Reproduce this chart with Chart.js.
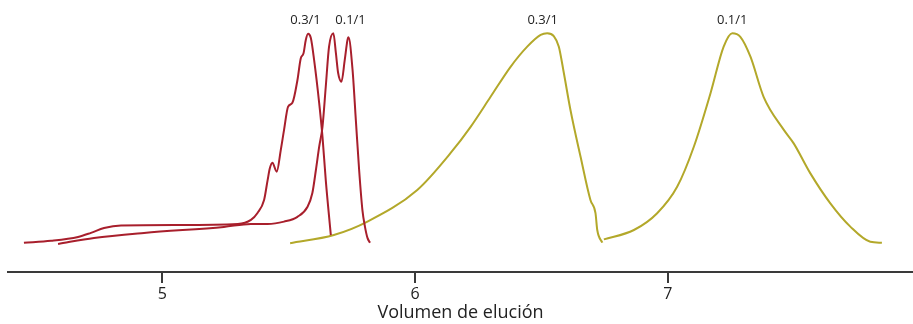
<!DOCTYPE html>
<html>
<head>
<meta charset="utf-8">
<script src="https://cdn.jsdelivr.net/npm/chart.js@4"></script>
<style>
  html, body { margin: 0; padding: 0; background: #fff; }
  #wrap { width: 913px; height: 324px; }
</style>
</head>
<body>
<div id="wrap"><canvas id="elutionChart" width="913" height="324"></canvas></div>
<script>
const red03X = [4.453, 4.560, 4.667, 4.718, 4.770, 4.837, 5.062, 5.299, 5.351, 5.377, 5.403, 5.417, 5.426, 5.436, 5.453, 5.469, 5.482, 5.498, 5.515, 5.535, 5.548, 5.559, 5.568, 5.577, 5.588, 5.601, 5.621, 5.634, 5.647, 5.667];
const red03Y = [12.2, 13.0, 14.6, 16.3, 18.3, 19.4, 19.6, 20.0, 21.7, 24.6, 30.0, 38.3, 43.3, 45.5, 41.8, 50.8, 59.2, 68.9, 70.5, 80.0, 89.0, 91.1, 96.7, 99.3, 97.5, 88.3, 70.4, 56.4, 38.3, 15.4];

const red01X = [4.588, 4.730, 4.928, 5.244, 5.351, 5.417, 5.482, 5.535, 5.575, 5.594, 5.608, 5.621, 5.634, 5.647, 5.660, 5.677, 5.687, 5.696, 5.709, 5.722, 5.733, 5.737, 5.753, 5.766, 5.779, 5.792, 5.802, 5.812, 5.822];
const red01Y = [11.7, 14.2, 16.3, 18.8, 20.0, 20.0, 21.0, 23.0, 27.2, 32.9, 42.5, 52.2, 60.5, 77.2, 93.9, 99.5, 91.3, 82.9, 79.3, 88.3, 96.7, 97.8, 84.2, 63.3, 42.5, 25.8, 18.9, 14.2, 12.2];

const olive03X = [5.506, 5.679, 5.812, 6.009, 6.141, 6.220, 6.299, 6.378, 6.444, 6.497, 6.523, 6.549, 6.569, 6.589, 6.615, 6.655, 6.694, 6.714, 6.721, 6.741];
const olive03Y = [12.0, 15.4, 21.0, 34.2, 49.6, 60.5, 73.0, 85.5, 93.9, 98.8, 99.5, 98.3, 93.9, 82.8, 67.5, 48.0, 30.0, 24.5, 17.5, 12.2];

const olive01X = [6.747, 6.866, 6.958, 7.037, 7.103, 7.169, 7.221, 7.255, 7.287, 7.327, 7.379, 7.459, 7.498, 7.564, 7.643, 7.722, 7.801, 7.847];
const olive01Y = [13.6, 17.5, 24.5, 35.5, 52.2, 74.5, 93.9, 99.5, 98.0, 89.7, 73.0, 59.2, 53.6, 41.1, 28.6, 18.9, 12.6, 12.2];

const tickValues = [5, 6, 7];

// etiquetas de los picos (relación)
const peakLabels = ['0.3/1', '0.1/1', '0.3/1', '0.1/1'];
const peakLabelX = [5.567, 5.745, 6.505, 7.255];
const peakLabelY = [105.0, 105.0, 105.0, 105.0];

const RED = '#a81f2c';
const OLIVE = '#b3a82a';

Chart.defaults.font.family = '"Open Sans", "Noto Sans", sans-serif';

function toPoints(xs, ys) {
    return xs.map((x, i) => ({ x: x, y: ys[i] }));
}

function lineSet(label, xs, ys, color) {
    return {
        label: label,
        data: toPoints(xs, ys),
        borderColor: color,
        backgroundColor: color,
        borderWidth: 2,
        pointRadius: 0,
        fill: false,
        cubicInterpolationMode: 'monotone'
    };
}

const peakLabelPlugin = {
    id: 'peakLabels',
    afterDatasetsDraw(chart) {
        const { ctx, scales } = chart;
        ctx.save();
        ctx.font = '13px "Open Sans", "Noto Sans", sans-serif';
        ctx.fillStyle = '#222';
        ctx.textAlign = 'center';
        ctx.textBaseline = 'middle';
        peakLabels.forEach((txt, i) => {
            ctx.fillText(txt, scales.x.getPixelForValue(peakLabelX[i]), scales.y.getPixelForValue(peakLabelY[i]));
        });
        ctx.restore();
    }
};

const ctx = document.getElementById('elutionChart').getContext('2d');

new Chart(ctx, {
    type: 'line',
    data: {
        datasets: [
            lineSet('0.3/1 (rojo)', red03X, red03Y, RED),
            lineSet('0.1/1 (rojo)', red01X, red01Y, RED),
            lineSet('0.3/1', olive03X, olive03Y, OLIVE),
            lineSet('0.1/1', olive01X, olive01Y, OLIVE)
        ]
    },
    options: {
        responsive: false,
        animation: false,
        layout: { padding: { top: 8, left: 8, right: 0, bottom: 0 } },
        plugins: {
            legend: { display: false },
            tooltip: { enabled: false }
        },
        scales: {
            x: {
                type: 'linear',
                min: 4.39,
                max: 7.97,
                afterBuildTicks: (scale) => {
                    scale.ticks = tickValues.map(v => ({ value: v }));
                },
                afterFit: (scale) => {
                    scale.height = 52;
                },
                border: { display: true, color: '#3a3a3a', width: 2 },
                grid: {
                    drawOnChartArea: false,
                    drawTicks: true,
                    tickLength: 11,
                    color: '#3a3a3a',
                    lineWidth: 2
                },
                ticks: {
                    color: '#222',
                    font: { size: 16 },
                    padding: 2,
                    maxRotation: 0
                },
                title: {
                    display: true,
                    text: 'Volumen de elución',
                    color: '#222',
                    font: { size: 18 },
                    padding: { top: 0, bottom: 0 }
                }
            },
            y: {
                display: false,
                min: 0,
                max: 110
            }
        }
    },
    plugins: [peakLabelPlugin]
});
</script>
</body>
</html>
